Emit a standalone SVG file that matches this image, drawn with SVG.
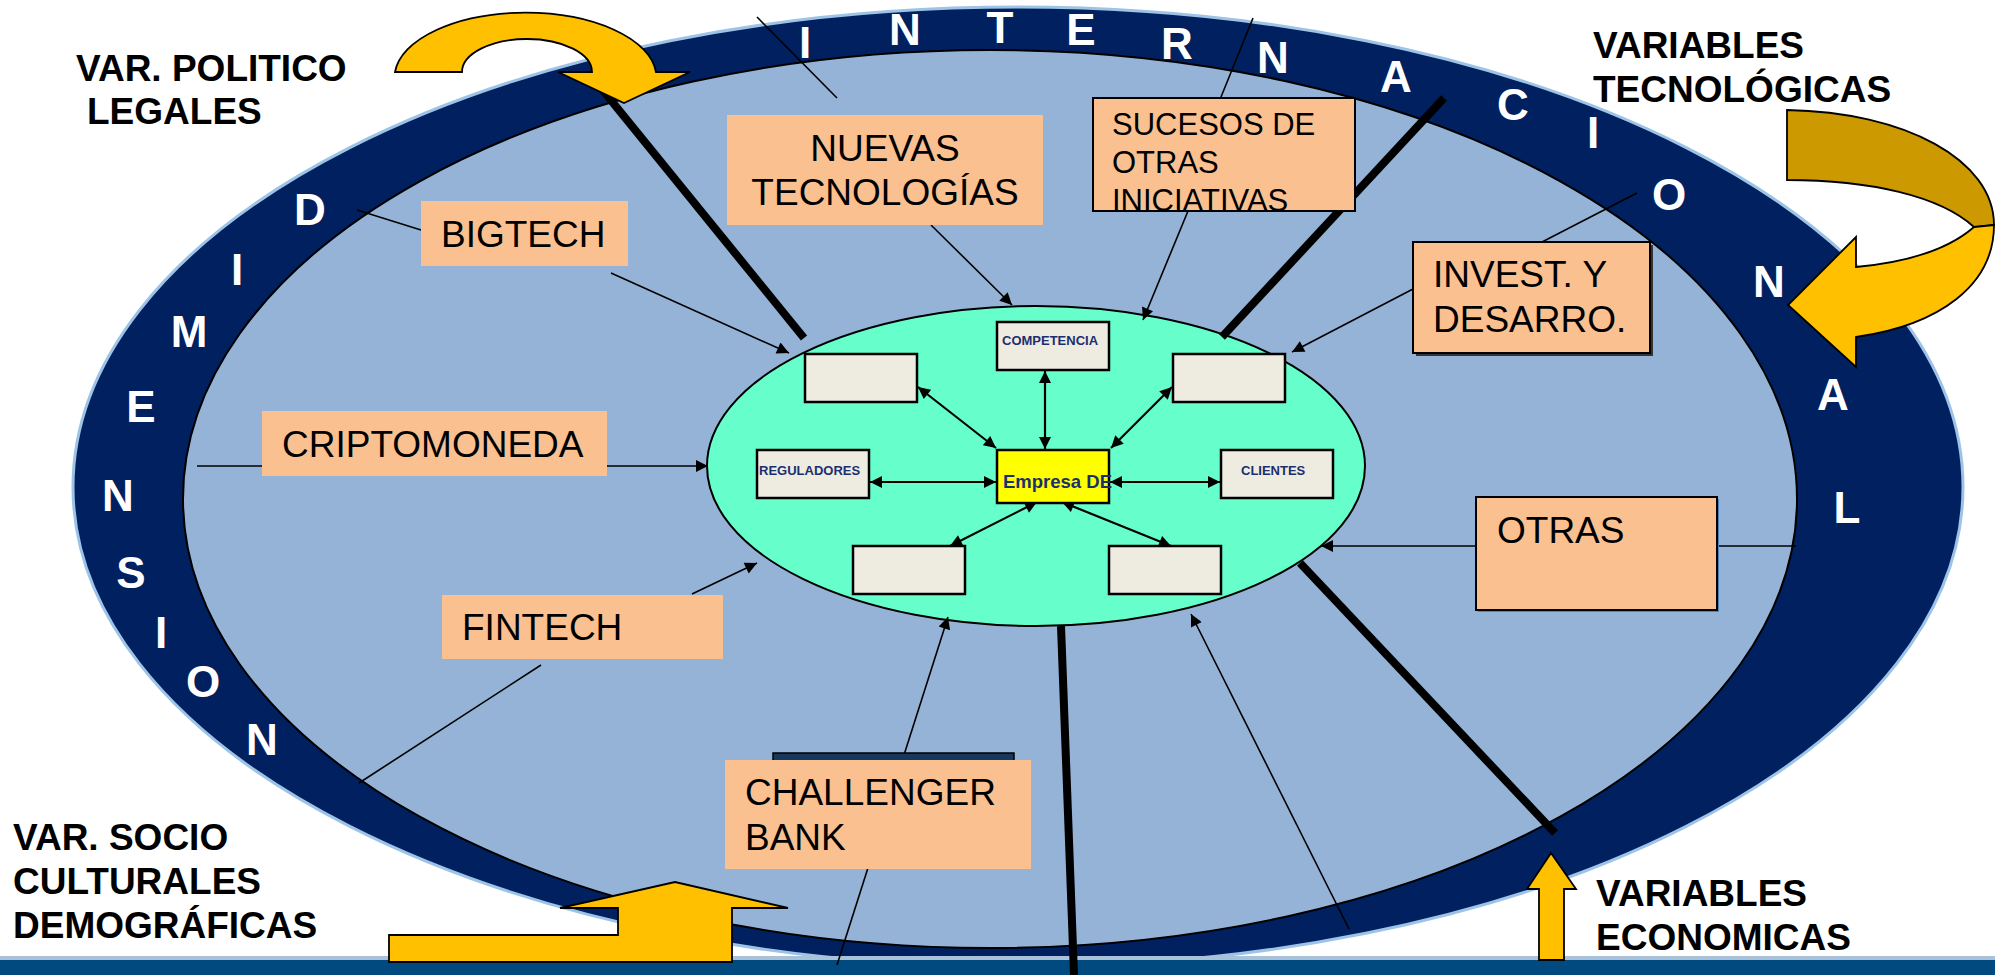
<svg xmlns="http://www.w3.org/2000/svg" width="1995" height="975" viewBox="0 0 1995 975">
<defs>
<style>
.ring{font-family:"Liberation Sans",Arial,sans-serif;font-weight:bold;font-size:44px;fill:#ffffff;text-anchor:middle}
.lbl{font-family:"Liberation Sans",Arial,sans-serif;font-weight:bold;font-size:37px;fill:#000000}
.pe{fill:#FAC090}
.pes{fill:#FAC090;stroke:#000000;stroke-width:2}
.pt{font-family:"Liberation Sans",Arial,sans-serif;font-size:37px;fill:#000000}
.ps{font-family:"Liberation Sans",Arial,sans-serif;font-size:31px;fill:#000000}
.ib{fill:#EEECE1;stroke:#000000;stroke-width:2.5}
.it{font-family:"Liberation Sans",Arial,sans-serif;font-weight:bold;font-size:13px;fill:#1B2F6E}
.thin{stroke:#000000;stroke-width:1.6;fill:none}
.inner{stroke:#000000;stroke-width:2.2;fill:none}
.thick{stroke:#000000;stroke-width:8;fill:none}
.yel{fill:#FFC000;stroke:#000000;stroke-width:1.8}
</style>
<marker id="ah" viewBox="0 0 10 10" refX="10" refY="5" markerWidth="14" markerHeight="12" markerUnits="userSpaceOnUse" orient="auto-start-reverse">
<path d="M0,0 L10,5 L0,10 z" fill="#000000"/>
</marker>
</defs>
<rect x="0" y="0" width="1995" height="975" fill="#ffffff"/>

<g id="outer-ring">
<ellipse cx="1018" cy="487" rx="945" ry="480" fill="#002060" stroke="#9DC3E6" stroke-width="3"/>
<ellipse cx="990" cy="499" rx="807" ry="449" fill="#95B3D7" stroke="#000000" stroke-width="2"/>
</g>

<g id="ring-letters">
<text class="ring" x="805" y="58">I</text>
<text class="ring" x="905" y="45">N</text>
<text class="ring" x="1000" y="43">T</text>
<text class="ring" x="1081" y="45">E</text>
<text class="ring" x="1177" y="59">R</text>
<text class="ring" x="1273" y="73">N</text>
<text class="ring" x="1396" y="92">A</text>
<text class="ring" x="1513" y="120">C</text>
<text class="ring" x="1593" y="148">I</text>
<text class="ring" x="1669" y="210">O</text>
<text class="ring" x="1769" y="297">N</text>
<text class="ring" x="1833" y="410">A</text>
<text class="ring" x="1847" y="523">L</text>
<text class="ring" x="310" y="225">D</text>
<text class="ring" x="237" y="285">I</text>
<text class="ring" x="189" y="347">M</text>
<text class="ring" x="141" y="422">E</text>
<text class="ring" x="118" y="511">N</text>
<text class="ring" x="131" y="588">S</text>
<text class="ring" x="161" y="648">I</text>
<text class="ring" x="203" y="697">O</text>
<text class="ring" x="262" y="755">N</text>
</g>

<rect x="0" y="956" width="1995" height="5" fill="#A9C1D9"/>
<rect x="0" y="960" width="1995" height="15" fill="#004A80"/>

<g id="core">
<ellipse cx="1036" cy="466" rx="329" ry="160" fill="#66FFCC" stroke="#000000" stroke-width="2"/>
</g>

<g id="connectors">
<line class="thick" x1="588" y1="72" x2="804" y2="338"/>
<line class="thick" x1="1444" y1="98" x2="1222" y2="337"/>
<line class="thick" x1="1300" y1="563" x2="1555" y2="833"/>
<line class="thick" x1="1061" y1="626" x2="1074" y2="975"/>
<line class="thin" x1="357" y1="210" x2="421" y2="230"/>
<line class="thin" x1="611" y1="273" x2="789" y2="353" marker-end="url(#ah)"/>
<line class="thin" x1="757" y1="17" x2="837" y2="98"/>
<line class="thin" x1="931" y1="225" x2="1012" y2="305" marker-end="url(#ah)"/>
<line class="thin" x1="1253" y1="18" x2="1221" y2="97"/>
<line class="thin" x1="1188" y1="211" x2="1143" y2="320" marker-end="url(#ah)"/>
<line class="thin" x1="1637" y1="193" x2="1542" y2="242"/>
<line class="thin" x1="1413" y1="289" x2="1292" y2="352" marker-end="url(#ah)"/>
<line class="thin" x1="197" y1="466" x2="708" y2="466" marker-end="url(#ah)"/>
<line class="thin" x1="1796" y1="546" x2="1321" y2="546" marker-end="url(#ah)"/>
<line class="thin" x1="359" y1="783" x2="541" y2="665"/>
<line class="thin" x1="692" y1="594" x2="757" y2="563" marker-end="url(#ah)"/>
<line class="thin" x1="837" y1="965" x2="948" y2="617" marker-end="url(#ah)"/>
<line class="thin" x1="1349" y1="929" x2="1191" y2="614" marker-end="url(#ah)"/>
<line class="inner" x1="918" y1="387" x2="996" y2="448" marker-start="url(#ah)" marker-end="url(#ah)"/>
<line class="inner" x1="1045" y1="371" x2="1045" y2="449" marker-start="url(#ah)" marker-end="url(#ah)"/>
<line class="inner" x1="1172" y1="387" x2="1111" y2="448" marker-start="url(#ah)" marker-end="url(#ah)"/>
<line class="inner" x1="870" y1="482" x2="996" y2="482" marker-start="url(#ah)" marker-end="url(#ah)"/>
<line class="inner" x1="1110" y1="482" x2="1220" y2="482" marker-start="url(#ah)" marker-end="url(#ah)"/>
<line class="inner" x1="1037" y1="502" x2="950" y2="546" marker-start="url(#ah)" marker-end="url(#ah)"/>
<line class="inner" x1="1062" y1="502" x2="1171" y2="546" marker-start="url(#ah)" marker-end="url(#ah)"/>
</g>

<g id="box-topleft"><rect class="ib" x="805" y="354" width="112" height="48"/></g>
<g id="box-competencia"><rect class="ib" x="997" y="322" width="112" height="48"/><text class="it" x="1002" y="345">COMPETENCIA</text></g>
<g id="box-topright"><rect class="ib" x="1173" y="354" width="112" height="48"/></g>
<g id="box-reguladores"><rect class="ib" x="757" y="450" width="112" height="48"/><text class="it" x="759" y="475">REGULADORES</text></g>
<g id="box-clientes"><rect class="ib" x="1221" y="450" width="112" height="48"/><text class="it" x="1241" y="475">CLIENTES</text></g>
<g id="box-bottomleft"><rect class="ib" x="853" y="546" width="112" height="48"/></g>
<g id="box-bottomright"><rect class="ib" x="1109" y="546" width="112" height="48"/></g>
<g id="box-empresa"><rect x="997" y="450" width="112" height="53" fill="#FFFF00" stroke="#000000" stroke-width="2.5"/><text x="1003" y="488" font-family="Liberation Sans, Arial, sans-serif" font-weight="bold" font-size="18.5" fill="#1B2F6E">Empresa DE</text></g>

<g id="bigtech"><rect class="pe" x="421" y="201" width="207" height="65"/><text class="pt" x="441" y="247">BIGTECH</text></g>
<g id="nuevas-tecnologias"><rect class="pe" x="727" y="115" width="316" height="110"/><text class="pt" x="885" y="161" text-anchor="middle">NUEVAS</text><text class="pt" x="885" y="205" text-anchor="middle">TECNOLOGÍAS</text></g>
<g id="sucesos"><rect class="pes" x="1093" y="98" width="262" height="113"/><text class="ps" x="1112" y="135">SUCESOS DE</text><text class="ps" x="1112" y="173">OTRAS</text><text class="ps" x="1112" y="211">INICIATIVAS</text></g>
<g id="invest"><rect x="1416" y="245" width="237" height="111" fill="#333333"/><rect class="pes" x="1413" y="242" width="237" height="111"/><text class="pt" x="1433" y="287">INVEST. Y</text><text class="pt" x="1433" y="332">DESARRO.</text></g>
<g id="criptomoneda"><rect class="pe" x="262" y="411" width="345" height="65"/><text class="pt" x="282" y="457">CRIPTOMONEDA</text></g>
<g id="fintech"><rect class="pe" x="442" y="595" width="281" height="64"/><text class="pt" x="462" y="640">FINTECH</text></g>
<g id="otras"><rect x="1478" y="499" width="241" height="113" fill="#4F81BD"/><rect class="pes" x="1476" y="497" width="241" height="113"/><text class="pt" x="1497" y="543">OTRAS</text></g>
<g id="challenger-bank"><rect x="773" y="753" width="241" height="50" fill="#17375E" stroke="#000000" stroke-width="1.5"/><rect class="pe" x="725" y="760" width="306" height="109"/><text class="pt" x="745" y="805">CHALLENGER</text><text class="pt" x="745" y="850">BANK</text></g>

<g id="arrow-politico"><path class="yel" d="M395,72 A131,65 0 0 1 656,72 L690,72 L624,103 L558,72 L592,72 A65,33 0 0 0 462,72 Z"/></g>
<g id="arrow-tecnologicas">
<path d="M1787,110 C1905,112 1994,160 1994,225 L1974,227 C1940,196 1870,180 1787,180 Z" fill="#CC9900" stroke="#000000" stroke-width="1.8"/>
<path class="yel" d="M1994,225 C1994,285 1940,325 1856,337 L1856,367 L1788,305 L1856,237 L1856,267 C1910,262 1950,248 1974,227 Z"/>
</g>
<g id="arrow-socio"><path class="yel" d="M389,935 L618,935 L618,908 L560,908 L675,882 L788,908 L732,908 L732,962 L389,962 Z"/></g>
<g id="arrow-economicas"><path class="yel" d="M1551,853 L1576,889 L1564,889 L1564,960 L1539,960 L1539,889 L1527,889 Z"/></g>

<g id="label-politico"><text class="lbl" x="76" y="81">VAR. POLITICO</text><text class="lbl" x="87" y="124">LEGALES</text></g>
<g id="label-tecnologicas"><text class="lbl" x="1593" y="58">VARIABLES</text><text class="lbl" x="1593" y="102">TECNOLÓGICAS</text></g>
<g id="label-socio"><text class="lbl" x="13" y="850">VAR. SOCIO</text><text class="lbl" x="13" y="894">CULTURALES</text><text class="lbl" x="13" y="938">DEMOGRÁFICAS</text></g>
<g id="label-economicas"><text class="lbl" x="1596" y="906">VARIABLES</text><text class="lbl" x="1596" y="950">ECONOMICAS</text></g>
</svg>
